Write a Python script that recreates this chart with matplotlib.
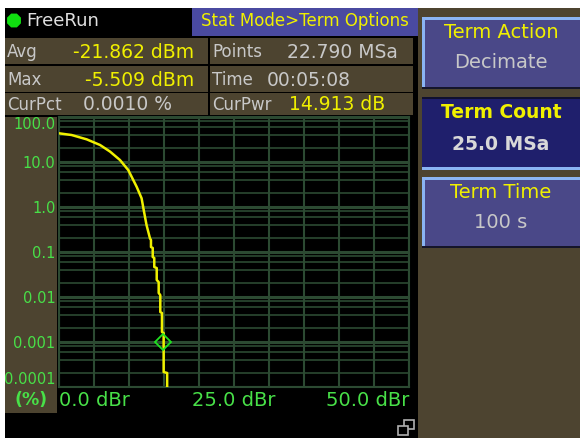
import numpy as np
import matplotlib
matplotlib.use("Agg")
import matplotlib.pyplot as plt
from matplotlib.patches import Rectangle, RegularPolygon
from matplotlib.ticker import LogLocator, NullFormatter

# CCDF trace (dBr above average, percent)
dbr = [0.0, 1.8, 3.95, 5.86, 7.3, 8.7, 9.9, 11.1, 11.8, 12.1, 12.5, 13.0,
       13.14, 13.14, 13.39, 13.39, 13.61, 13.61, 13.96, 13.96, 14.24, 14.24,
       14.47, 14.47, 14.71, 14.71, 14.95, 14.95, 15.45, 15.45]
pct = [43.4, 39.8, 31.9, 23.9, 17.0, 11.1, 6.6, 2.8, 1.56, 0.86, 0.4, 0.2,
       0.185, 0.129, 0.123, 0.0774, 0.0736, 0.0464, 0.044, 0.0239, 0.0215, 0.0123,
       0.011, 0.00464, 0.0044, 0.00167, 0.00158, 0.000215, 0.000205, 0.0001]
marker_dbr = 14.913
marker_pct = 0.0010

ytick_vals = [100, 10, 1, 0.1, 0.01, 0.001, 0.0001]
ytick_labels = ["100.0", "10.0", "1.0", "0.1", "0.01", "0.001", "0.0001"]
xtick_vals = [0, 25, 50]
xtick_labels = ["0.0 dBr", "25.0 dBr", "50.0 dBr"]

info_left = [("Avg", "-21.862 dBm", "y"), ("Max", "-5.509 dBm", "y"), ("CurPct", "0.0010 %", "g")]
info_right = [("Points", "22.790 MSa", "g"), ("Time", "00:05:08", "g"), ("CurPwr", "14.913 dB", "y")]
softkeys = [("Term Action", "Decimate", False), ("Term Count", "25.0 MSa", True), ("Term Time", "100 s", False)]

OLIVE = "#4d4430"
YEL = "#f0f000"
GRAY = "#c8c8c8"
GRN = "#48e048"
GRID = "#2c4a32"

plt.rcParams['font.family'] = ['DejaVu Sans']

W, H = 580, 438
fig = plt.figure(figsize=(W / 100, H / 100), dpi=100)
fig.patch.set_facecolor("white")

# screen decoration, pixel coordinates
bg = fig.add_axes([0, 0, 1, 1])
bg.set_xlim(0, W)
bg.set_ylim(H, 0)
bg.axis("off")

def box(x0, y0, x1, y1, c, z=1):
    bg.add_patch(Rectangle((x0, y0), x1 - x0, y1 - y0, facecolor=c, edgecolor="none", zorder=z))

box(5, 8, 418, H, "black")
box(418, 8, W, H, OLIVE)

# header
bg.add_patch(RegularPolygon((14, 20.5), 8, radius=7.5, orientation=np.pi / 8,
                            facecolor="#10e010", edgecolor="none", zorder=3))
bg.text(26, 21, "FreeRun", color="#e0e0e0", fontsize=13, va="center", ha="left", zorder=3)
box(192, 8, 418, 36, "#4a4aa0", 2)
bg.text(305, 21.5, "Stat Mode>Term Options", color=YEL, fontsize=12, va="center", ha="center", zorder=3)

# info cells
rows = [(38, 64), (66, 92), (93, 115)]
for (y0, y1), (lab, val, c) in zip(rows, info_left):
    box(5, y0, 208, y1, OLIVE, 2)
    bg.text(7, (y0 + y1) / 2 + 1, lab, color=GRAY, fontsize=12, va="center", ha="left", zorder=3)
    if c == "y":
        bg.text(194, (y0 + y1) / 2 + 1, val, color=YEL, fontsize=13.5, va="center", ha="right", zorder=3)
    else:
        bg.text(83, (y0 + y1) / 2 + 1, val, color=GRAY, fontsize=13.5, va="center", ha="left", zorder=3)
for (y0, y1), (lab, val, c) in zip(rows, info_right):
    box(210, y0, 413, y1, OLIVE, 2)
    bg.text(212, (y0 + y1) / 2 + 1, lab, color=GRAY, fontsize=12, va="center", ha="left", zorder=3)
    if lab == "Points":
        bg.text(398, (y0 + y1) / 2 + 1, val, color=GRAY, fontsize=13.5, va="center", ha="right", zorder=3)
    elif lab == "Time":
        bg.text(267, (y0 + y1) / 2 + 1, val, color=GRAY, fontsize=13.5, va="center", ha="left", zorder=3)
    else:
        bg.text(289, (y0 + y1) / 2 + 1, val, color=YEL, fontsize=13.5, va="center", ha="left", zorder=3)

# left label panel
box(5, 117, 57, 413, OLIVE, 2)
bg.text(31, 400, "(%)", color=GRN, fontsize=12.5, fontweight="bold", va="center", ha="center", zorder=3)

# restore icon
bg.add_patch(Rectangle((404, 420), 10, 9, facecolor="none", edgecolor="#b0b0b0", lw=1.2, zorder=3))
bg.add_patch(Rectangle((398, 426), 10, 9, facecolor="black", edgecolor="#b0b0b0", lw=1.2, zorder=4))

# softkeys
keys_y = [(17, 89), (97, 170), (177, 248)]
for (y0, y1), (title, sub, active) in zip(keys_y, softkeys):
    if active:
        box(422, y0, W, y1, "#1f1f6c", 2)
        box(422, y0, W, y0 + 2, "#101030", 3)
        box(422, y1 - 3, W, y1, "#8ab4f4", 3)
        bg.text(501, y0 + 16, title, color=YEL, fontsize=13.5, fontweight="bold", va="center", ha="center", zorder=4)
        bg.text(501, y0 + 47, sub, color="#d8d8d8", fontsize=13.5, fontweight="bold", va="center", ha="center", zorder=4)
    else:
        box(422, y0, W, y1, "#4a4888", 2)
        box(422, y0, W, y0 + 3, "#8ab4f4", 3)
        box(422, y0, 425, y1, "#8ab4f4", 3)
        box(422, y1 - 2, W, y1, "#15152a", 3)
        bg.text(501, y0 + 16, title, color=YEL, fontsize=14, va="center", ha="center", zorder=4)
        bg.text(501, y0 + 46, sub, color=GRAY, fontsize=14, va="center", ha="center", zorder=4)

# CCDF plot
ax = fig.add_axes([59 / W, (H - 387) / H, 350 / W, 270 / H])
ax.set_facecolor("black")
ax.set_yscale("log")
ax.set_xlim(0, 50)
ax.set_ylim(0.0001, 100)
ax.set_xticks(np.arange(0, 51, 5), minor=True)
ax.set_xticks(xtick_vals)
ax.set_xticklabels(xtick_labels)
ax.set_yticks(ytick_vals)
ax.set_yticklabels(ytick_labels)
ax.yaxis.set_minor_locator(LogLocator(base=10, subs=[2, 4, 6, 8], numticks=20))
ax.yaxis.set_minor_formatter(NullFormatter())
ax.grid(True, which="major", axis="y", color=GRID, lw=2.2)
ax.grid(True, which="minor", axis="y", color=GRID, lw=1.2)
ax.grid(True, which="both", axis="x", color=GRID, lw=1.5)
ax.tick_params(which="both", length=0)
ax.tick_params(axis="y", labelcolor=GRN, labelsize=10.5, pad=2.5)
ax.tick_params(axis="x", labelcolor=GRN, labelsize=14, pad=3)
for s in ax.spines.values():
    s.set_color(GRID)
    s.set_linewidth(1.5)

ax.plot(dbr, pct, color=YEL, lw=1.8, zorder=3)
ax.plot([marker_dbr], [marker_pct], marker="D", ms=8, mfc="none", mec="#20e020", mew=1.3, zorder=4)

labs = ax.get_yticklabels()
labs[0].set_va("top")
labs[-1].set_va("bottom")
xl = ax.get_xticklabels()
xl[0].set_ha("left")
xl[-1].set_ha("right")

fig.savefig("out.png", dpi=100, facecolor="white")
